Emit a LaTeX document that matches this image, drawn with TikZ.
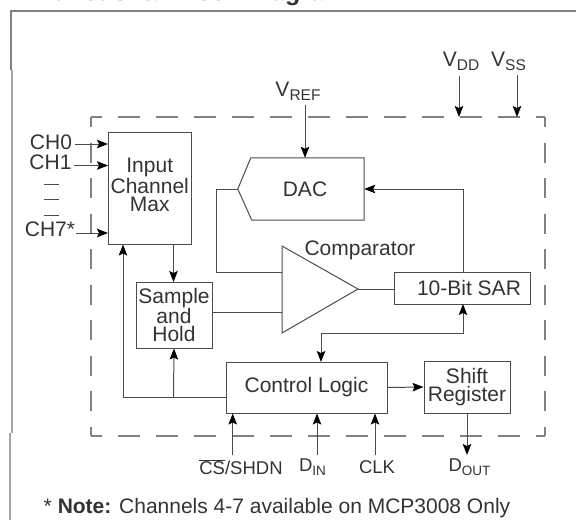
\documentclass[tikz,border=0pt]{standalone}
\usepackage{fontspec}
\setmainfont{Liberation Sans}
\usetikzlibrary{arrows.meta,calc,positioning}
\definecolor{linegray}{gray}{0.3}
\definecolor{textgray}{gray}{0.2}
\newcommand{\labelfont}{\fontsize{21}{18}\selectfont}
\newcommand{\pinfont}{\fontsize{18.5}{18}\selectfont}
\newcommand{\subfont}[1]{\raisebox{-.35ex}{\fontsize{15.5}{15.5}\selectfont #1}}
\newcommand{\pinsub}[1]{\raisebox{-.35ex}{\fontsize{13.5}{13.5}\selectfont #1}}
\tikzset {
  >={Stealth[length=11pt,width=8.5pt,inset=2pt,color=black,fill=black]},
  x=1pt,y=-1pt,
  every node/.style={font=\labelfont,text=textgray,inner sep=0pt},
  wire/.style={draw=linegray,line width=1pt},
  blockbox/.style={wire,align=center},
  pinlabel/.style={font=\pinfont},
  hdash/.style={draw=linegray!70,line width=1.1pt,dash pattern=on 22pt off 16pt,dash phase=11pt},
  vdash/.style={draw=linegray!70,line width=1.3pt,dash pattern=on 20pt off 15.5pt,dash phase=10pt},
}
\begin{document}
\begin{tikzpicture}
  \useasboundingbox (0,0) rectangle (576,520);
  % page frame
  \draw[draw=gray,line width=1.2pt] (11,70) -- (11,11) -- (576,11);
  \draw[draw=gray!70,line width=1.4pt] (12,70) -- (12,433);
  \draw[draw=gray!70,line width=1.6pt] (10,433) -- (10,520);
  \node (title) at (192,0)[anchor=base,font=\fontsize{25}{25}\selectfont\bfseries]{Functional Block Diagram};
  % chip boundary
  \coordinate (nw) at (91,117);
  \coordinate (ne) at (545,117);
  \coordinate (sw) at (91,436);
  \coordinate (se) at (545,436);
  \draw[hdash] (nw) -- (ne);
  \draw[hdash] (sw) -- (se);
  \draw[vdash] (nw) -- (sw);
  \draw[vdash] (ne) -- (se);
  % blocks
  \node (mux) at (149.75,188)[blockbox,minimum width=82.5pt,minimum height=112pt]{Input\\Channel\\Max\\[-12pt]};
  \node (hold) at (174,315)[blockbox,minimum width=76pt,minimum height=66pt]{Sample\\and\\Hold};
  \node (ctrl) at (306.5,387.5)[blockbox,minimum width=161pt,minimum height=51pt]{Control Logic};
  \node (shift) at (467,387)[blockbox,minimum width=86pt,minimum height=52pt]{Shift\\Register};
  \node (sar) at (462,288)[blockbox,minimum width=136pt,minimum height=32pt]{\hspace*{14pt}10-Bit SAR};
  \node (dac) at (301,189)[minimum width=126pt,minimum height=62pt]{\hspace*{8pt}DAC};
  \draw[wire] (dac.west) -- ($(dac.north west)+(13,0)$) -- (dac.north east) -- (dac.south east)
    -- ($(dac.south west)+(14,0)$) -- cycle;
  % comparator
  \coordinate (cmpt) at (282,246);
  \coordinate (cmpb) at (282,333);
  \coordinate (cmpo) at (358,289);
  \draw[wire] (cmpt) -- (cmpo) -- (cmpb) -- cycle;
  \node (cmplabel) at (360,250){Comparator};
  % inputs, left side
  \node (ch0) at (51,142){CH0};
  \node (ch1) at (50.5,162){CH1};
  \node (ch7) at (50,229){CH7*};
  \coordinate (ch0e) at (75,144);
  \coordinate (ch1e) at (74,165.5);
  \coordinate (ch7e) at (76,233);
  \draw[wire,->] (ch0e) -- (ch0e -| mux.west);
  \draw[wire,->] (ch1e) -- (ch1e -| mux.west);
  \draw[wire,->] (ch7e) -- (ch7e -| mux.west);
  \foreach \ypos in {184,199,215}
    \draw[wire] (44,\ypos) -- (59,\ypos);
  % supplies
  \node (vref) at (298,91){V\subfont{REF}};
  \node (vdd) at (461,61){V\subfont{DD}};
  \node (vss) at (508.5,61){V\subfont{SS}};
  \coordinate (vrefs) at (305,105);
  \coordinate (vdds) at (459,76);
  \coordinate (vsss) at (517,75);
  \draw[wire,->] (vrefs) -- (vrefs |- dac.north);
  \draw[wire,->] (vdds) -- (vdds |- ne);
  \draw[wire,->] (vsss) -- (vsss |- ne);
  % internal connections
  \coordinate (fb) at (216,272);
  \draw[wire] (dac.west) -| (fb) -- (fb -| cmpt);
  \draw[wire,->] (173.5,243.7) -- (173.5,282);
  \draw[wire] (hold.east |- 0,312) -- (cmpt |- 0,312);
  \draw[wire] (cmpo) -- (sar.west |- cmpo);
  \draw[wire,->] (463,272) |- (dac.east);
  \draw[wire,<->] (463,304) |- (321,333) -- (321,362);
  \draw[wire,->] (226,397) -| (mux.south -| 123,0);
  \draw[wire,->] (173.5,397) -- (hold.south);
  \draw[wire,->] (ctrl.east) -- (shift.west);
  % pins, bottom
  \node (cs) at (241,467)[pinlabel]{$\overline{\hbox{CS}}$/SHDN};
  \node (din) at (312.5,467)[pinlabel]{D\pinsub{IN}};
  \node (clk) at (377,467)[pinlabel]{CLK};
  \node (dout) at (469.5,467)[pinlabel]{D\pinsub{OUT}};
  \coordinate (css) at (232.7,455);
  \coordinate (dins) at (317,455);
  \coordinate (clks) at (375,455);
  \coordinate (dfoot) at (467,455);
  \draw[wire,->] (css) -- (css |- ctrl.south);
  \draw[wire,->] (dins) -- (dins |- ctrl.south);
  \draw[wire,->] (clks) -- (clks |- ctrl.south);
  \draw[wire,->] (dfoot |- shift.south) -- (dfoot);
  % footnote
  \node (note) at (277,508){* \textbf{Note:} Channels 4-7 available on MCP3008 Only};
\end{tikzpicture}
\end{document}
